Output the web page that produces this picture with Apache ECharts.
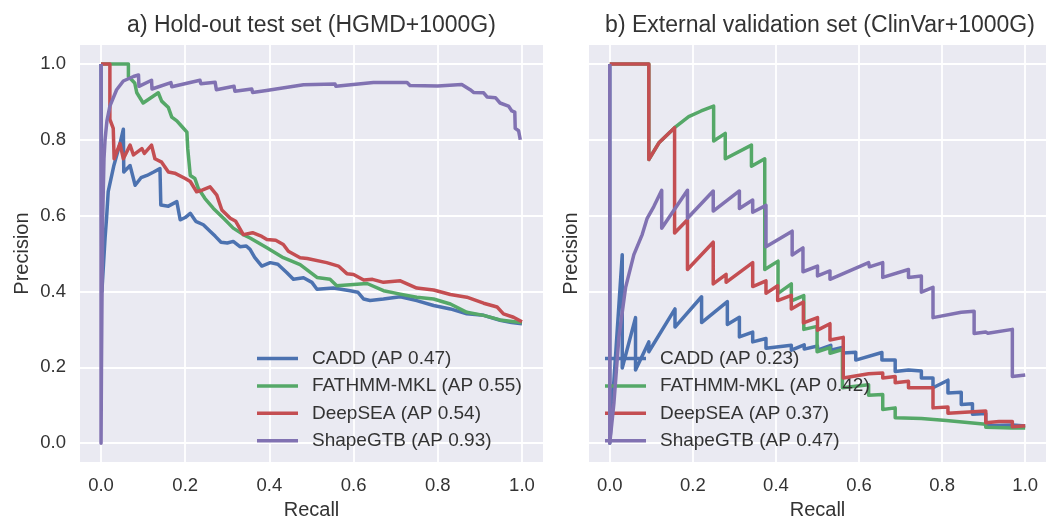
<!DOCTYPE html>
<html>
<head>
<meta charset="utf-8">
<script src="https://cdn.jsdelivr.net/npm/echarts@6/dist/echarts.min.js"></script>
<style>
html,body{margin:0;padding:0;background:#fff;}
#chart{width:1046px;height:525px;}
</style>
</head>
<body>
<div id="chart"></div>
<script>
// ---------- data ----------
const tickValues = [0, 0.2, 0.4, 0.6, 0.8, 1.0];
const panelTitles = ['a) Hold-out test set (HGMD+1000G)', 'b) External validation set (ClinVar+1000G)'];
const methods = ['CADD', 'FATHMM-MKL', 'DeepSEA', 'ShapeGTB'];
const apA = ['0.47', '0.55', '0.54', '0.93'];
const apB = ['0.23', '0.42', '0.37', '0.47'];

// Panel a: [recall, precision]
const caddA = [[0,1],[0.002,0.40],[0.0095,0.54],[0.0135,0.60],[0.017,0.663],[0.03,0.73],[0.045,0.79],[0.053,0.828],[0.054,0.715],[0.069,0.732],[0.081,0.68],[0.095,0.70],[0.109,0.706],[0.125,0.715],[0.14,0.724],[0.142,0.628],[0.16,0.625],[0.18,0.637],[0.188,0.589],[0.2,0.595],[0.212,0.606],[0.225,0.585],[0.243,0.576],[0.259,0.559],[0.271,0.546],[0.285,0.53],[0.3,0.528],[0.314,0.532],[0.33,0.518],[0.345,0.52],[0.354,0.511],[0.365,0.49],[0.382,0.467],[0.402,0.476],[0.42,0.472],[0.441,0.45],[0.457,0.432],[0.481,0.436],[0.501,0.424],[0.513,0.406],[0.552,0.409],[0.592,0.402],[0.61,0.398],[0.624,0.38],[0.639,0.376],[0.671,0.38],[0.711,0.386],[0.75,0.376],[0.79,0.363],[0.83,0.354],[0.869,0.341],[0.909,0.337],[0.948,0.324],[0.975,0.318],[1.0,0.315]];
const fathmmA = [[0,1],[0.065,1.0],[0.065,0.967],[0.08,0.95],[0.085,0.924],[0.1,0.897],[0.136,0.924],[0.144,0.902],[0.16,0.885],[0.168,0.86],[0.18,0.85],[0.192,0.835],[0.204,0.82],[0.206,0.776],[0.212,0.706],[0.223,0.698],[0.231,0.672],[0.247,0.645],[0.267,0.619],[0.291,0.593],[0.314,0.567],[0.338,0.55],[0.354,0.541],[0.394,0.515],[0.433,0.489],[0.473,0.471],[0.513,0.437],[0.544,0.432],[0.56,0.415],[0.632,0.421],[0.671,0.402],[0.711,0.393],[0.75,0.385],[0.79,0.38],[0.83,0.367],[0.869,0.345],[0.909,0.337],[0.948,0.325],[0.992,0.319],[1.0,0.318]];
const deepseaA = [[0,1],[0.021,1.0],[0.021,0.854],[0.029,0.83],[0.031,0.75],[0.045,0.79],[0.053,0.75],[0.069,0.786],[0.077,0.76],[0.097,0.777],[0.103,0.764],[0.12,0.786],[0.128,0.75],[0.144,0.741],[0.16,0.715],[0.175,0.712],[0.2,0.698],[0.212,0.69],[0.227,0.663],[0.24,0.667],[0.259,0.676],[0.275,0.654],[0.287,0.615],[0.307,0.593],[0.32,0.585],[0.338,0.55],[0.36,0.555],[0.382,0.545],[0.394,0.537],[0.415,0.535],[0.433,0.524],[0.445,0.506],[0.473,0.489],[0.49,0.487],[0.536,0.476],[0.564,0.467],[0.584,0.447],[0.6,0.445],[0.624,0.43],[0.645,0.432],[0.671,0.424],[0.711,0.428],[0.75,0.409],[0.79,0.404],[0.83,0.392],[0.869,0.385],[0.909,0.369],[0.941,0.359],[0.956,0.341],[0.98,0.332],[1.0,0.32]];
const shapeA = [[0,1],[0,0],[0.001,0.2],[0.002,0.35],[0.004,0.6],[0.007,0.75],[0.0095,0.80],[0.014,0.85],[0.021,0.889],[0.037,0.932],[0.053,0.955],[0.077,0.967],[0.089,0.971],[0.09,0.941],[0.12,0.957],[0.121,0.934],[0.166,0.951],[0.168,0.94],[0.235,0.957],[0.237,0.948],[0.271,0.952],[0.274,0.932],[0.316,0.941],[0.318,0.928],[0.358,0.934],[0.36,0.925],[0.393,0.93],[0.481,0.945],[0.556,0.947],[0.558,0.941],[0.647,0.951],[0.663,0.951],[0.665,0.948],[0.727,0.951],[0.734,0.943],[0.8,0.942],[0.857,0.946],[0.877,0.932],[0.885,0.925],[0.909,0.924],[0.917,0.913],[0.937,0.911],[0.948,0.897],[0.968,0.889],[0.976,0.876],[0.983,0.873],[0.984,0.83],[0.992,0.824],[0.996,0.80]];

// Panel b
const caddB = [[0,1],[0,0],[0.03,0.497],[0.03,0.198],[0.062,0.331],[0.062,0.193],[0.094,0.267],[0.094,0.241],[0.157,0.354],[0.157,0.306],[0.221,0.386],[0.221,0.318],[0.283,0.373],[0.283,0.313],[0.312,0.332],[0.312,0.28],[0.344,0.293],[0.344,0.267],[0.376,0.276],[0.376,0.25],[0.437,0.258],[0.437,0.245],[0.468,0.259],[0.468,0.248],[0.5,0.256],[0.5,0.245],[0.532,0.258],[0.532,0.245],[0.562,0.253],[0.562,0.238],[0.592,0.24],[0.592,0.219],[0.655,0.239],[0.655,0.219],[0.687,0.219],[0.687,0.189],[0.719,0.193],[0.75,0.19],[0.75,0.172],[0.778,0.172],[0.778,0.146],[0.814,0.166],[0.814,0.132],[0.846,0.134],[0.846,0.102],[0.873,0.104],[0.873,0.076],[0.905,0.078],[0.905,0.046],[0.969,0.048],[1.0,0.045]];
const fathmmB = [[0,1],[0.094,1.0],[0.094,0.748],[0.119,0.793],[0.156,0.832],[0.19,0.861],[0.22,0.876],[0.25,0.889],[0.25,0.797],[0.278,0.817],[0.278,0.75],[0.341,0.786],[0.341,0.73],[0.373,0.75],[0.373,0.458],[0.405,0.48],[0.405,0.395],[0.437,0.42],[0.437,0.375],[0.467,0.389],[0.467,0.3],[0.499,0.308],[0.499,0.241],[0.53,0.252],[0.53,0.237],[0.56,0.247],[0.56,0.146],[0.623,0.154],[0.623,0.126],[0.657,0.128],[0.657,0.089],[0.687,0.093],[0.687,0.067],[0.75,0.065],[0.81,0.06],[0.905,0.05],[0.905,0.042],[0.969,0.04],[1.0,0.04]];
const deepseaB = [[0,1],[0.094,1.0],[0.094,0.748],[0.119,0.793],[0.156,0.832],[0.156,0.554],[0.187,0.589],[0.187,0.458],[0.249,0.53],[0.249,0.42],[0.28,0.445],[0.28,0.424],[0.344,0.476],[0.344,0.413],[0.376,0.428],[0.376,0.395],[0.404,0.415],[0.404,0.376],[0.437,0.39],[0.437,0.354],[0.466,0.372],[0.466,0.317],[0.5,0.331],[0.5,0.298],[0.53,0.315],[0.53,0.272],[0.562,0.279],[0.562,0.172],[0.623,0.183],[0.657,0.185],[0.657,0.172],[0.687,0.176],[0.687,0.159],[0.719,0.163],[0.719,0.146],[0.778,0.146],[0.778,0.093],[0.814,0.095],[0.814,0.079],[0.905,0.085],[0.905,0.054],[0.937,0.057],[0.969,0.057],[0.969,0.043],[1.0,0.046]];
const shapeB = [[0,1],[0,0],[0.01,0.106],[0.022,0.28],[0.038,0.41],[0.058,0.497],[0.078,0.55],[0.09,0.593],[0.106,0.624],[0.125,0.667],[0.125,0.567],[0.187,0.667],[0.187,0.593],[0.249,0.665],[0.249,0.612],[0.312,0.665],[0.312,0.619],[0.344,0.641],[0.344,0.609],[0.376,0.627],[0.376,0.518],[0.439,0.559],[0.439,0.496],[0.465,0.515],[0.465,0.452],[0.5,0.467],[0.5,0.441],[0.53,0.454],[0.53,0.432],[0.623,0.476],[0.625,0.465],[0.657,0.476],[0.657,0.437],[0.719,0.458],[0.719,0.437],[0.75,0.441],[0.75,0.398],[0.778,0.411],[0.778,0.331],[0.846,0.345],[0.846,0.34],[0.877,0.348],[0.877,0.289],[0.905,0.293],[0.91,0.29],[0.969,0.30],[0.969,0.176],[1.0,0.18]];

// ---------- chart ----------
const colors = ['#4C72B0', '#55A868', '#C44E52', '#8172B2'];
const FONT = "'Liberation Sans', Arial, sans-serif";
const TXT = '#333333';
const dataA = [caddA, fathmmA, deepseaA, shapeA];
const dataB = [caddB, fathmmB, deepseaB, shapeB];
const namesA = methods.map((m, i) => m + ' (AP ' + apA[i] + ')');
const namesB = methods.map((m, i) => m + ' (AP ' + apB[i] + ')');

const grids = [
  {left: 80, top: 45, width: 463, height: 423},
  {left: 589, top: 45, width: 462, height: 423}
];

function xAxisFor(i) {
  return {
    type: 'value', gridIndex: i, min: -0.05, max: 1.05,
    name: 'Recall', nameLocation: 'middle', nameGap: 37,
    nameTextStyle: {fontSize: 20, color: TXT, fontFamily: FONT},
    axisLine: {show: false},
    axisTick: {show: false, customValues: tickValues},
    axisLabel: {customValues: tickValues, formatter: v => v.toFixed(1), fontSize: 18.5, color: TXT, fontFamily: FONT, margin: 14},
    splitLine: {show: true, lineStyle: {color: '#ffffff', width: 1.8}}
  };
}
function yAxisFor(i) {
  return {
    type: 'value', gridIndex: i, min: -0.05, max: 1.05,
    name: 'Precision', nameLocation: 'middle', nameRotate: 90, nameGap: i === 0 ? 48 : 8,
    nameTextStyle: {fontSize: 20, color: TXT, fontFamily: FONT},
    axisLine: {show: false},
    axisTick: {show: false, customValues: tickValues},
    axisLabel: {show: i === 0, customValues: tickValues, formatter: v => v.toFixed(1), fontSize: 18.5, color: TXT, fontFamily: FONT, margin: 14},
    splitLine: {show: true, lineStyle: {color: '#ffffff', width: 1.8}}
  };
}

const series = [];
[dataA, dataB].forEach((set, gi) => {
  set.forEach((d, k) => {
    series.push({
      type: 'line', name: (gi === 0 ? namesA : namesB)[k], data: d,
      xAxisIndex: gi, yAxisIndex: gi, symbol: 'none', showSymbol: false,
      lineStyle: {width: 3.5, color: colors[k], join: 'round'}, itemStyle: {color: colors[k]},
      emphasis: {disabled: true}, silent: true, animation: false, z: 2 + k
    });
  });
});

function legendFor(names, left) {
  return {
    data: names.map(n => ({name: n, icon: 'rect'})), orient: 'vertical', left: left, top: 349, padding: 0,
    itemWidth: 41, itemHeight: 3.5, itemGap: 8.4, selectedMode: false,
    textStyle: {fontSize: 19, color: TXT, fontFamily: FONT, padding: [0, 0, 0, 9]}
  };
}

const option = {
  backgroundColor: '#ffffff',
  animation: false,
  title: [
    {text: panelTitles[0], left: 311.5, textAlign: 'center', top: 14, padding: 0,
     textStyle: {fontSize: 23, fontWeight: 'normal', color: TXT, fontFamily: FONT}},
    {text: panelTitles[1], left: 820, textAlign: 'center', top: 14, padding: 0,
     textStyle: {fontSize: 23, fontWeight: 'normal', color: TXT, fontFamily: FONT}}
  ],
  grid: grids.map(g => Object.assign({backgroundColor: '#EAEAF2', show: true, borderWidth: 0}, g)),
  xAxis: [xAxisFor(0), xAxisFor(1)],
  yAxis: [yAxisFor(0), yAxisFor(1)],
  legend: [legendFor(namesA, 257), legendFor(namesB, 605)],
  series: series
};

const chart = echarts.init(document.getElementById('chart'), null, {renderer: 'canvas'});
chart.setOption(option);
</script>
</body>
</html>
